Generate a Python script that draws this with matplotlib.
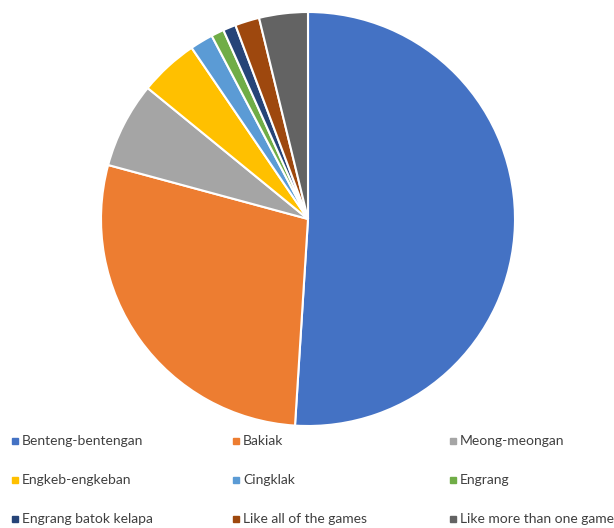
import matplotlib
matplotlib.use('Agg')
import matplotlib.pyplot as plt
from matplotlib.patches import Rectangle

labels = ['Benteng-bentengan', 'Bakiak', 'Meong-meongan',
          'Engkeb-engkeban', 'Cingklak', 'Engrang',
          'Engrang batok kelapa', 'Like all of the games', 'Like more than one game']
values = [51.0, 28.2, 6.7, 4.6, 1.8, 1.0, 1.0, 1.9, 3.8]
colors = ['#4472C4', '#ED7D31', '#A5A5A5', '#FFC000', '#5B9BD5',
          '#70AD47', '#264478', '#9E480E', '#636363']

plt.rcParams['font.family'] = ['Lato', 'DejaVu Sans']

W, H = 614, 528
fig = plt.figure(figsize=(W / 100, H / 100), dpi=100)

# pie: centre (308, 219), radius 207 px
cx, cy, r = 308, 219, 207
ax = fig.add_axes([(cx - r) / W, (H - cy - r) / H, 2 * r / W, 2 * r / H])
ax.pie(values, colors=colors, startangle=90, counterclock=False,
       wedgeprops={'edgecolor': 'white', 'linewidth': 1.5})
ax.set_xlim(-1, 1)
ax.set_ylim(-1, 1)
ax.set_aspect('auto')
ax.axis('off')

# legend, 3 columns
col_x = [12, 233, 450]
row_y = [441, 480, 519]
for i, (lab, col) in enumerate(zip(labels, colors)):
    x = col_x[i % 3]
    y = row_y[i // 3]
    fig.add_artist(Rectangle((x / W, (H - y - 3) / H), 6 / W, 6 / H,
                             transform=fig.transFigure, color=col))
    fig.text((x + 10) / W, (H - y) / H, lab, fontsize=10, color='#404040',
             va='center', ha='left')

fig.savefig('out.png', dpi=100)
